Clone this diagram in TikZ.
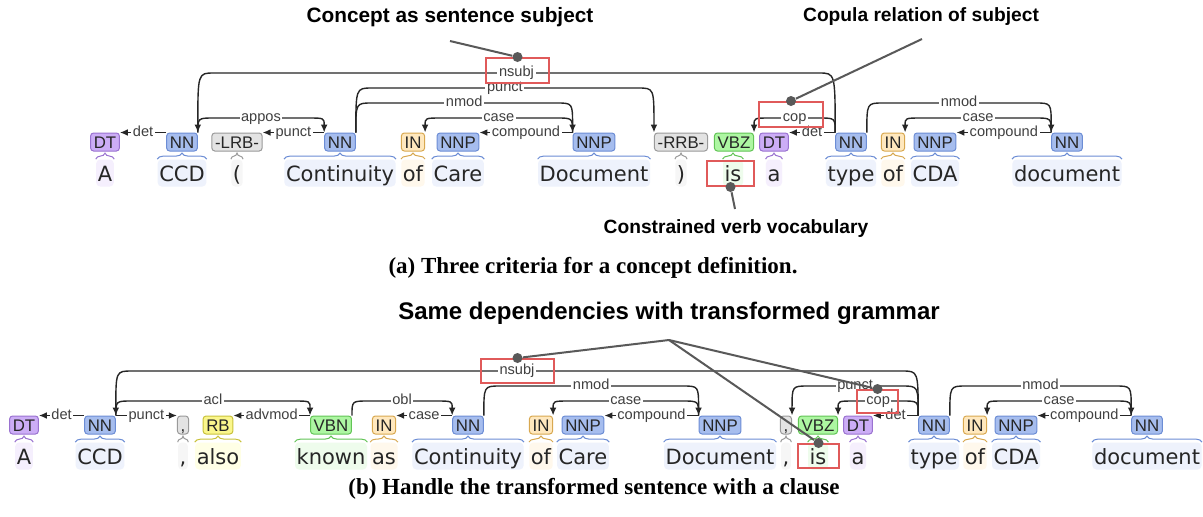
\documentclass[tikz,border=0pt]{standalone}
\usepackage{fontspec}
\usetikzlibrary{arrows.meta,decorations.pathreplacing}

\newfontfamily\wordfont{DejaVu Sans}
\newfontfamily\tagfont{Liberation Sans}
\newfontfamily\capfont{Liberation Serif}

\definecolor{noun}{HTML}{A6BDEE}  \definecolor{nounline}{HTML}{6C8DD5} \definecolor{nounbg}{HTML}{EEF2FC}
\definecolor{det}{HTML}{CCADF6}   \definecolor{detline}{HTML}{9A72D0}  \definecolor{detbg}{HTML}{F5EFFD}
\definecolor{prep}{HTML}{FFE8BE}  \definecolor{prepline}{HTML}{D8A850} \definecolor{prepbg}{HTML}{FFF8EC}
\definecolor{verb}{HTML}{ADF6A2}  \definecolor{verbline}{HTML}{62C456} \definecolor{verbbg}{HTML}{EEFCEC}
\definecolor{punc}{HTML}{E3E3E3}  \definecolor{puncline}{HTML}{9A9A9A} \definecolor{puncbg}{HTML}{F6F6F6}
\definecolor{adv}{HTML}{FAF68C}   \definecolor{advline}{HTML}{C9C23C}  \definecolor{advbg}{HTML}{FFFFE6}
\definecolor{arcgray}{HTML}{262626}
\definecolor{lblgray}{HTML}{404040}
\definecolor{pingray}{HTML}{595959}
\definecolor{hlred}{HTML}{E05A5A}

\tikzset{
  tag/.style={draw=#1line, fill=#1, rounded corners=1.5pt, line width=0.5pt,
    text=black!85, font=\tagfont\fontsize{8.4}{9}\selectfont,
    inner xsep=1.6pt, inner ysep=0pt, minimum height=9pt, text height=6pt, text depth=0pt},
  word/.style={fill=#1bg, rounded corners=2pt, text=black!85,
    font=\wordfont\fontsize{10.5}{12}\selectfont,
    inner xsep=0.8pt, inner ysep=1pt, text height=10pt, text depth=1.5pt},
  brace/.style={decorate, decoration={brace, amplitude=3pt}, line width=0.5pt},
  arc/.style={draw=arcgray, line width=0.7pt, -{Latex[length=4pt,width=3.4pt]}},
  lbl/.style={midway, fill=white, text=lblgray, font=\tagfont\fontsize{7.3}{8}\selectfont,
    inner xsep=0.8pt, inner ysep=0.5pt, text height=5.2pt, text depth=1.5pt},
  rarc/.style={to path={.. controls (\tikztostart |- #1) .. ([xshift=8pt]\tikztostart |- #1)
    -- ([xshift=-8pt]\tikztotarget |- #1) \tikztonodes
    .. controls (\tikztotarget |- #1) .. (\tikztotarget)}},
  larc/.style={to path={.. controls (\tikztostart |- #1) .. ([xshift=-8pt]\tikztostart |- #1)
    -- ([xshift=8pt]\tikztotarget |- #1) \tikztonodes
    .. controls (\tikztotarget |- #1) .. (\tikztotarget)}},
  hl/.style={draw=hlred, line width=1pt, inner sep=0pt},
  pin/.style={draw=pingray, line width=1pt},
  dot/.style={circle, fill=pingray, inner sep=0pt, minimum size=5pt},
  head/.style={font=\tagfont\bfseries\fontsize{#1}{#1}\selectfont, inner sep=0pt},
  caption/.style={font=\capfont\bfseries\fontsize{11.5}{13}\selectfont, inner sep=0pt},
}

\begin{document}
\begin{tikzpicture}[x=0.5pt, y=-0.5pt]
\path[use as bounding box, fill=white] (0,0) rectangle (1203,516);

% arc levels
\coordinate (la1) at (0,118);
\coordinate (la2) at (0,103);
\coordinate (la3) at (0,88);
\coordinate (la4) at (0,73);
\coordinate (lb1) at (0,401);
\coordinate (lb2) at (0,386);
\coordinate (lb3) at (0,371);

% ---------- (a) ----------
\node[tag=det]  (a1)  at (105,142)  {DT};
\node[tag=noun] (a2)  at (182,142)  {NN};
\node[tag=punc] (a3)  at (237,142)  {-LRB-};
\node[tag=noun] (a4)  at (340,142)  {NN};
\node[tag=prep] (a5)  at (413,142)  {IN};
\node[tag=noun] (a6)  at (458,142)  {NNP};
\node[tag=noun] (a7)  at (594,142)  {NNP};
\node[tag=punc] (a8)  at (681,142)  {-RRB-};
\node[tag=verb] (a9)  at (734,142)  {VBZ};
\node[tag=det]  (a10) at (774,142)  {DT};
\node[tag=noun] (a11) at (851,142)  {NN};
\node[tag=prep] (a12) at (893,142)  {IN};
\node[tag=noun] (a13) at (935,142)  {NNP};
\node[tag=noun] (a14) at (1067,142) {NN};

\node[word=det]  (wa1)  at (105,173)  {A};
\node[word=noun] (wa2)  at (182,173)  {CCD};
\node[word=punc] (wa3)  at (237,173)  {(};
\node[word=noun] (wa4)  at (340,173)  {Continuity};
\node[word=prep] (wa5)  at (413,173)  {of};
\node[word=noun] (wa6)  at (458,173)  {Care};
\node[word=noun] (wa7)  at (594,173)  {Document};
\node[word=punc] (wa8)  at (681,173)  {)};
\node[word=verb] (wa9)  at (733,173)  {is};
\node[word=det]  (wa10) at (774,173)  {a};
\node[word=noun] (wa11) at (851,173)  {type};
\node[word=prep] (wa12) at (893,173)  {of};
\node[word=noun] (wa13) at (935,173)  {CDA};
\node[word=noun] (wa14) at (1067,173) {document};

\foreach \n/\col in {wa1/detline, wa2/nounline, wa3/puncline, wa4/nounline, wa5/prepline,
    wa6/nounline, wa7/nounline, wa8/puncline, wa9/verbline, wa10/detline, wa11/nounline,
    wa12/prepline, wa13/nounline, wa14/nounline}
  \draw[brace, draw=\col] (\n.north west) -- (\n.north east);

\draw[arc] (a2.north west)  -- node[lbl]{det} (a1.north east);
\draw[arc] (a4.north west)  -- node[lbl]{punct} (a3.north east);
\draw[arc] (a7.north west)  -- node[lbl]{compound} (a6.north east);
\draw[arc] (a11.north west) -- node[lbl]{det} (a10.north east);
\draw[arc] (a14.north west) -- node[lbl]{compound} (a13.north east);
\draw[arc] (a2.north east)  to[rarc=la1] node[lbl]{appos} (a4.north west);
\draw[arc] (a7.north west)  to[larc=la1] node[lbl]{case} (a5.north east);
\draw[arc] (a11.north west) to[larc=la1] node[lbl]{cop} (a9.north east);
\draw[arc] (a14.north west) to[larc=la1] node[lbl]{case} (a12.north east);
\draw[arc] (a4.north east)  to[rarc=la2] node[lbl]{nmod} (a7.north west);
\draw[arc] (a11.north east) to[rarc=la2] node[lbl]{nmod} (a14.north west);
\draw[arc] (a4.north east)  to[rarc=la3] node[lbl]{punct} (a8.north west);
\draw[arc] (a11.north west) to[larc=la4] node[lbl]{nsubj} (a2.north east);

% notes on (a)
\node[head=10.4] (ta1) at (450,17)  {Concept as sentence subject};
\node[head=9.6]  (ta2) at (921,17)  {Copula relation of subject};
\node[head=9.6]  (ta3) at (736,229) {Constrained verb vocabulary};
\node[hl, minimum width=31.5pt, minimum height=12.5pt] (ha1) at (517.5,70.5)  {};
\node[hl, minimum width=32pt,   minimum height=12.5pt] (ha2) at (791,114.5)   {};
\node[hl, minimum width=23.5pt, minimum height=12.5pt] (ha3) at (730.5,173.5) {};
\node[dot] (da1) at (ha1.north) {};
\node[dot] (da2) at (ha2.north) {};
\node[dot] (da3) at (ha3.south) {};
\coordinate (pa1) at (450,41);
\coordinate (pa2) at (922,39);
\coordinate (pa3) at (735,209);
\draw[pin] (pa1) -- (da1);
\draw[pin] (pa2) -- (da2);
\draw[pin] (da3) -- (pa3);
\node[caption] (capa) at (593,268) {(a) Three criteria for a concept definition.};

% ---------- (b) ----------
\node[head=12] (tb1) at (669,313) {Same dependencies with transformed grammar};

\node[tag=det]  (b1)  at (24,425)   {DT};
\node[tag=noun] (b2)  at (100,425)  {NN};
\node[tag=punc] (b3)  at (183,425)  {,};
\node[tag=adv]  (b4)  at (218,425)  {RB};
\node[tag=verb] (b5)  at (331,425)  {VBN};
\node[tag=prep] (b6)  at (384,425)  {IN};
\node[tag=noun] (b7)  at (468,425)  {NN};
\node[tag=prep] (b8)  at (541,425)  {IN};
\node[tag=noun] (b9)  at (583,425)  {NNP};
\node[tag=noun] (b10) at (720,425)  {NNP};
\node[tag=punc] (b11) at (786,425)  {,};
\node[tag=verb] (b12) at (818,425)  {VBZ};
\node[tag=det]  (b13) at (858,425)  {DT};
\node[tag=noun] (b14) at (934,425)  {NN};
\node[tag=prep] (b15) at (975,425)  {IN};
\node[tag=noun] (b16) at (1016,425) {NNP};
\node[tag=noun] (b17) at (1147,425) {NN};

\node[word=det]  (wb1)  at (24,456)   {A};
\node[word=noun] (wb2)  at (100,456)  {CCD};
\node[word=punc] (wb3)  at (183,456)  {,};
\node[word=adv]  (wb4)  at (218,456)  {also};
\node[word=verb] (wb5)  at (331,456)  {known};
\node[word=prep] (wb6)  at (384,456)  {as};
\node[word=noun] (wb7)  at (468,456)  {Continuity};
\node[word=prep] (wb8)  at (541,456)  {of};
\node[word=noun] (wb9)  at (583,456)  {Care};
\node[word=noun] (wb10) at (720,456)  {Document};
\node[word=punc] (wb11) at (786,456)  {,};
\node[word=verb] (wb12) at (818,456)  {is};
\node[word=det]  (wb13) at (858,456)  {a};
\node[word=noun] (wb14) at (934,456)  {type};
\node[word=prep] (wb15) at (975,456)  {of};
\node[word=noun] (wb16) at (1016,456) {CDA};
\node[word=noun] (wb17) at (1147,456) {document};

\foreach \n/\col in {wb1/detline, wb2/nounline, wb3/puncline, wb4/advline, wb5/verbline,
    wb6/prepline, wb7/nounline, wb8/prepline, wb9/nounline, wb10/nounline, wb11/puncline,
    wb12/verbline, wb13/detline, wb14/nounline, wb15/prepline, wb16/nounline, wb17/nounline}
  \draw[brace, draw=\col] (\n.north west) -- (\n.north east);

\draw[arc] (b2.north west)  -- node[lbl]{det} (b1.north east);
\draw[arc] (b2.north east)  -- node[lbl]{punct} (b3.north west);
\draw[arc] (b5.north west)  -- node[lbl]{advmod} (b4.north east);
\draw[arc] (b7.north west)  -- node[lbl]{case} (b6.north east);
\draw[arc] (b10.north west) -- node[lbl]{compound} (b9.north east);
\draw[arc] (b14.north west) -- node[lbl]{det} (b13.north east);
\draw[arc] (b17.north west) -- node[lbl]{compound} (b16.north east);
\draw[arc] (b2.north east)  to[rarc=lb1] node[lbl]{acl} (b5.north west);
\draw[arc] (b5.north east)  to[rarc=lb1] node[lbl]{obl} (b7.north west);
\draw[arc] (b10.north west) to[larc=lb1] node[lbl]{case} (b8.north east);
\draw[arc] (b14.north west) to[larc=lb1] node[lbl]{cop} (b12.north east);
\draw[arc] (b17.north west) to[larc=lb1] node[lbl]{case} (b15.north east);
\draw[arc] (b7.north east)  to[rarc=lb2] node[lbl]{nmod} (b10.north west);
\draw[arc] (b14.north west) to[larc=lb2] node[lbl]{punct} (b11.north east);
\draw[arc] (b14.north east) to[rarc=lb2] node[lbl]{nmod} (b17.north west);
\draw[arc] (b14.north west) to[larc=lb3] node[lbl]{nsubj} (b2.north east);

% notes on (b)
\node[hl, minimum width=36.5pt, minimum height=12pt]   (hb1) at (517.5,371) {};
\node[hl, minimum width=20.5pt, minimum height=11.5pt] (hb2) at (877.5,401.5) {};
\node[hl, minimum width=20.5pt, minimum height=12pt]   (hb3) at (818.5,456) {};
\node[dot] (db1) at (hb1.north) {};
\node[dot] (db2) at (hb2.north) {};
\node[dot] (db3) at (hb3.north) {};
\coordinate (hub) at (669,340);
\draw[pin] (hub) -- (db1);
\draw[pin] (hub) -- (db2);
\draw[pin] (hub) -- (db3);
\node[caption] (capb) at (594,489) {(b) Handle the transformed sentence with a clause};
\end{tikzpicture}
\end{document}
